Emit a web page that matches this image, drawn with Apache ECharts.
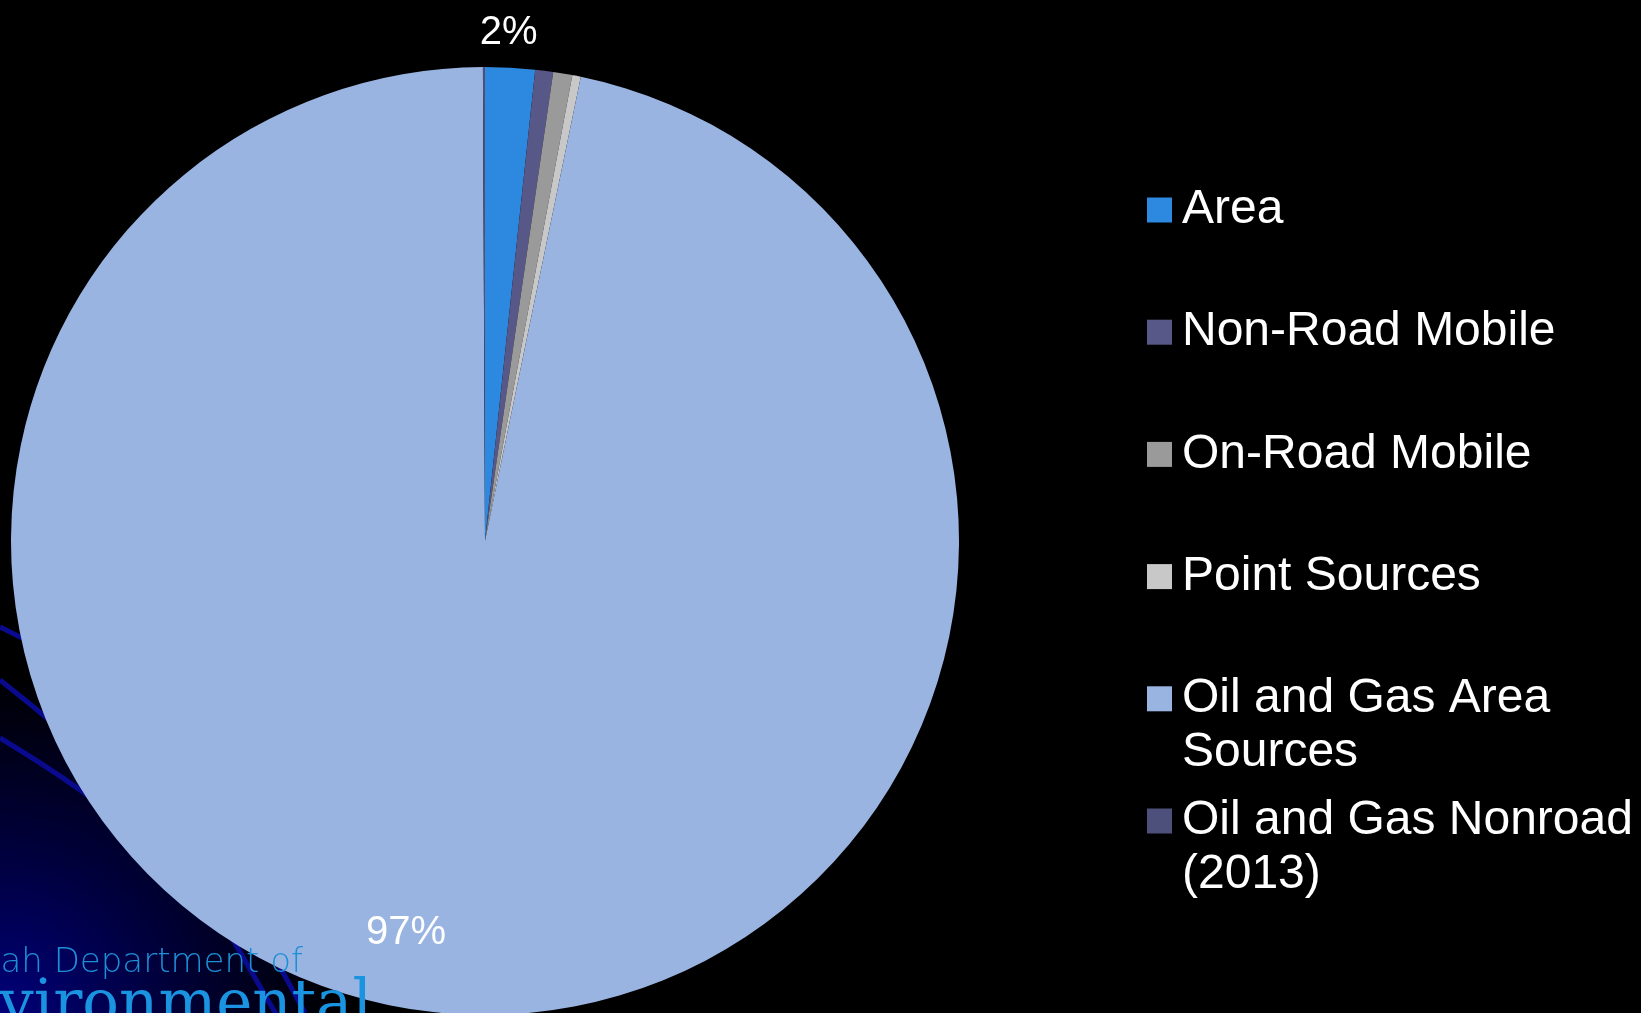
<!DOCTYPE html>
<html>
<head>
<meta charset="utf-8">
<script src="https://cdn.jsdelivr.net/npm/echarts@6/dist/echarts.min.js"></script>
<style>
  html, body { margin: 0; padding: 0; background: #000; overflow: hidden; }
  #chart { width: 1641px; height: 1013px; }
</style>
</head>
<body>
<div id="chart"></div>
<script>
// Emission source categories and their share of the total (percent)
const categories = [
  'Area',
  'Non-Road Mobile',
  'On-Road Mobile',
  'Point Sources',
  'Oil and Gas Area Sources',
  'Oil and Gas Nonroad (2013)'
];
const shares = [1.69, 0.61, 0.65, 0.29, 96.69, 0.07];
const legendText = [
  'Area',
  'Non-Road Mobile',
  'On-Road Mobile',
  'Point Sources',
  'Oil and Gas Area\nSources',
  'Oil and Gas Nonroad\n(2013)'
];
// Slices that carry a percentage label
const labelledSlices = ['Area', 'Oil and Gas Area Sources'];

const sliceColors = ['#2d88e0', '#575888', '#9a9a9a', '#c8c8c8', '#9ab4e2', '#4e507c'];
const labelOffsets = { 'Area': [11, -268], 'Oil and Gas Area Sources': [-55, 153] };

const FONT = '"Liberation Sans", Arial, Helvetica, sans-serif';
const LINE_H = 54;

const chart = echarts.init(document.getElementById('chart'), null, { renderer: 'canvas' });

const pieData = categories.map((name, i) => {
  const item = { name, value: shares[i], itemStyle: { color: sliceColors[i] } };
  if (labelledSlices.includes(name)) {
    item.label = { show: true, position: 'inside', offset: labelOffsets[name] };
  }
  return item;
});

// One legend block per category so rows keep an even pitch.
// Legend text is centred on its marker, so a wrapped name gets a blank
// leading line: the first real line then sits beside the marker.
const legends = categories.map((name, i) => {
  const wrapped = legendText[i].indexOf('\n') >= 0;
  const shown = wrapped ? '\n' + legendText[i] : legendText[i];
  const lines = shown.split('\n').length;
  const center = 210 + i * 122.2;
  return {
    show: true,
    orient: 'vertical',
    left: 1147,
    top: center - lines * LINE_H / 2,
    padding: 0,
    selectedMode: false,
    icon: 'rect',
    itemWidth: 25,
    itemHeight: 25,
    formatter: () => shown,
    data: [name],
    textStyle: {
      color: '#ffffff',
      fontFamily: FONT,
      fontSize: 48,
      lineHeight: LINE_H,
      padding: [0, 0, 0, 5]
    }
  };
});

const swoosh = '#0a0a8f';

chart.setOption({
  backgroundColor: '#000000',
  animation: false,
  legend: legends,
  graphic: [
    {
      type: 'rect', z: 0, silent: true,
      shape: { x: 0, y: 560, width: 520, height: 453 },
      style: {
        fill: {
          type: 'radial', x: 0, y: 1013, r: 340, global: true,
          colorStops: [
            { offset: 0, color: '#00007a' },
            { offset: 0.45, color: '#000040' },
            { offset: 1, color: '#000000' }
          ]
        }
      }
    },
    { type: 'bezierCurve', z: 1, silent: true,
      shape: { x1: 0, y1: 627, cpx1: 150, cpy1: 700, x2: 300, y2: 800 },
      style: { stroke: swoosh, lineWidth: 5, fill: null } },
    { type: 'bezierCurve', z: 1, silent: true,
      shape: { x1: 0, y1: 680, cpx1: 225, cpy1: 858, x2: 280, y2: 967 },
      style: { stroke: swoosh, lineWidth: 5, fill: null } },
    { type: 'line', z: 1, silent: true,
      shape: { x1: 280, y1: 967, x2: 305, y2: 1013 },
      style: { stroke: swoosh, lineWidth: 5 } },
    { type: 'bezierCurve', z: 1, silent: true,
      shape: { x1: 0, y1: 738, cpx1: 178, cpy1: 845, x2: 233, y2: 940 },
      style: { stroke: swoosh, lineWidth: 5, fill: null } },
    { type: 'line', z: 1, silent: true,
      shape: { x1: 233, y1: 940, x2: 280, y2: 1021 },
      style: { stroke: swoosh, lineWidth: 5 } },
    {
      type: 'text', z: 100, silent: true,
      style: {
        text: 'Utah Department of', x: 303, y: 963,
        align: 'right', verticalAlign: 'middle',
        fill: '#1d8fd6',
        font: '200 34px "DejaVu Sans", sans-serif'
      }
    },
    {
      type: 'text', z: 100, silent: true,
      style: {
        text: 'Environmental', x: 372, y: 1007,
        align: 'right', verticalAlign: 'middle',
        fill: '#1a94e0',
        font: '61px "DejaVu Serif", serif'
      }
    }
  ],
  series: [{
    type: 'pie',
    z: 2,
    center: [485, 541],
    radius: 474,
    startAngle: 90,
    clockwise: true,
    avoidLabelOverlap: false,
    percentPrecision: 0,
    itemStyle: { borderWidth: 0 },
    label: {
      show: false,
      formatter: '{d}%',
      color: '#ffffff',
      fontFamily: FONT,
      fontSize: 40
    },
    labelLine: { show: false },
    emphasis: { disabled: true },
    data: pieData
  }]
});
</script>
</body>
</html>
